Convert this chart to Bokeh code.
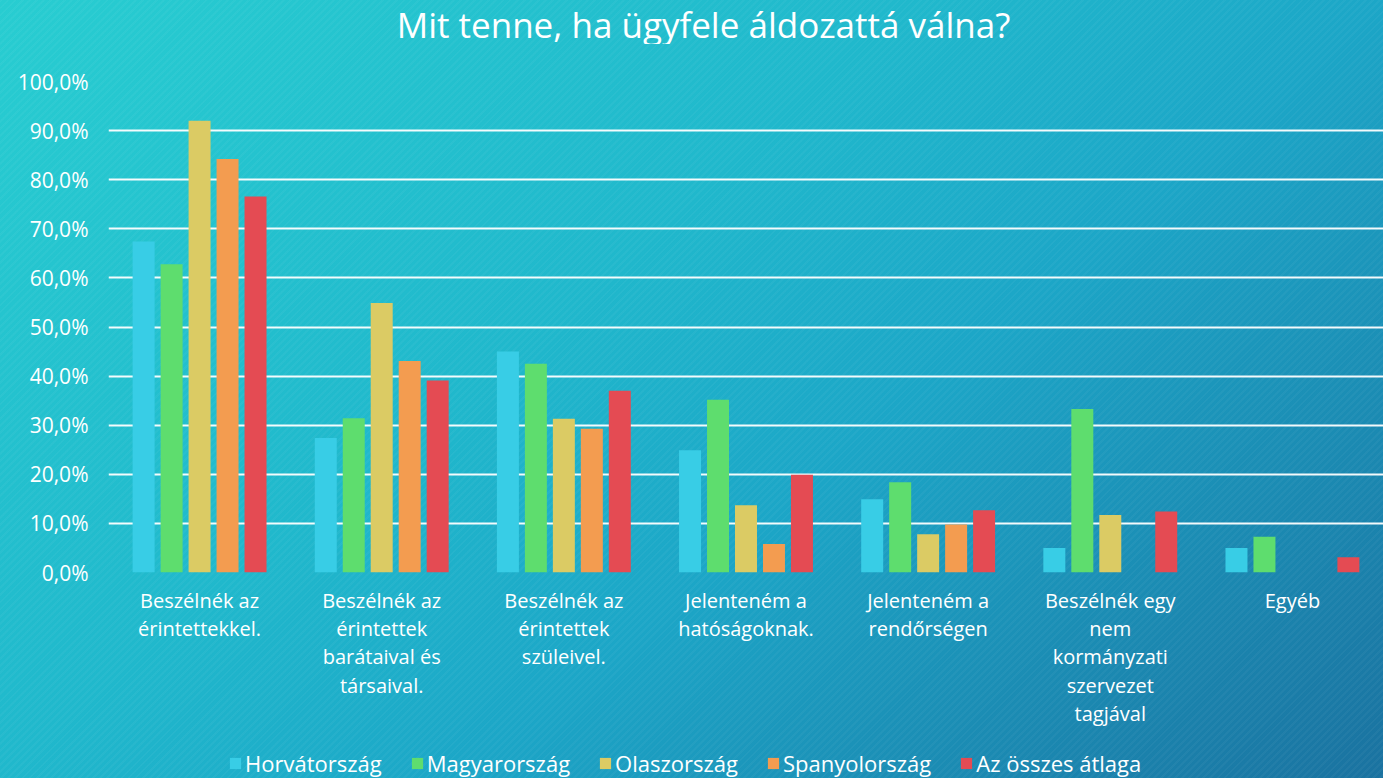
from bokeh.plotting import figure
from bokeh.models import ColumnDataSource, FixedTicker, Range1d, Legend, Label
from bokeh.layouts import column
from bokeh.transform import dodge
from bokeh.embed import file_html
from bokeh.resources import INLINE

# ---- data -------------------------------------------------------------
categories = [
    "Beszélnék az\nérintettekkel.",
    "Beszélnék az\nérintettek\nbarátaival és\ntársaival.",
    "Beszélnék az\nérintettek\nszüleivel.",
    "Jelenteném a\nhatóságoknak.",
    "Jelenteném a\nrendőrségen",
    "Beszélnék egy\nnem\nkormányzati\nszervezet\ntagjával",
    "Egyéb",
]
series_names = ["Horvátország", "Magyarország", "Olaszország", "Spanyolország", "Az összes átlaga"]
horvatorszag = [67.4, 27.4, 45.0, 24.9, 14.9, 5.0, 5.0]
magyarorszag = [62.8, 31.4, 42.5, 35.2, 18.4, 33.3, 7.3]
olaszorszag = [92.0, 54.9, 31.3, 13.7, 7.8, 11.7, 0.0]
spanyolorszag = [84.2, 43.1, 29.3, 5.8, 9.8, 0.0, 0.0]
atlag = [76.6, 39.1, 37.0, 19.9, 12.7, 12.4, 3.1]
y_ticks = [0, 10, 20, 30, 40, 50, 60, 70, 80, 90, 100]
y_tick_labels = ["0,0%", "10,0%", "20,0%", "30,0%", "40,0%", "50,0%",
                 "60,0%", "70,0%", "80,0%", "90,0%", "100,0%"]
title_text = "Mit tenne, ha ügyfele áldozattá válna?"

colors = ["#38CDE6", "#5EDD6E", "#DBCB64", "#F39C50", "#E44B53"]

x_pos = [i + 0.5 for i in range(len(categories))]
src = ColumnDataSource(dict(x=x_pos, s0=horvatorszag, s1=magyarorszag,
                            s2=olaszorszag, s3=spanyolorszag, s4=atlag))

FONT = "Open Sans"
W = 1383


def bare(height):
    f = figure(width=W, height=height, output_backend="svg", toolbar_location=None,
               title=None, x_range=Range1d(0, 1), y_range=Range1d(0, 1),
               x_axis_type=None, y_axis_type=None, min_border=0)
    f.background_fill_alpha = 0
    f.border_fill_alpha = 0
    f.outline_line_color = None
    f.grid.visible = False
    return f


# ---- title strip (frames of the column are aligned at x = 108) -----------
head = bare(44)
head.add_layout(Label(x=595, y=20, x_units="screen", y_units="screen", text=title_text,
                      text_font=FONT, text_font_size="35px", text_color="white",
                      text_align="center", text_baseline="alphabetic"))

# ---- main chart -----------------------------------------------------------
p = figure(width=W, height=704, frame_width=1275, frame_height=491,
           output_backend="svg", toolbar_location=None, title=None,
           x_range=Range1d(0, 7), y_range=Range1d(0, 100),
           min_border_left=108, min_border_right=0, min_border_top=37,
           min_border_bottom=176)
p.background_fill_alpha = 0
p.border_fill_alpha = 0
p.outline_line_color = None

pitch = 0.1536
bw = 0.1207
for j in range(5):
    p.vbar(x=dodge("x", (j - 2) * pitch, range=p.x_range), top=f"s{j}", width=bw,
           source=src, fill_color=colors[j], line_color=None)

p.xaxis.ticker = FixedTicker(ticks=x_pos)
p.xaxis.major_label_overrides = {x: c for x, c in zip(x_pos, categories)}
p.yaxis.ticker = FixedTicker(ticks=y_ticks)
p.yaxis.major_label_overrides = {t: l for t, l in zip(y_ticks, y_tick_labels)}
for ax in (p.xaxis[0], p.yaxis[0]):
    ax.axis_line_color = None
    ax.major_tick_line_color = None
    ax.minor_tick_line_color = None
    ax.major_tick_out = 0
    ax.major_tick_in = 0
    ax.major_label_text_color = "white"
    ax.major_label_text_font = FONT
p.xaxis.major_label_text_font_size = "20px"
p.xaxis.major_label_text_line_height = 1.05
p.xaxis.major_label_standoff = 14
p.yaxis.major_label_text_font_size = "21px"
p.yaxis.major_label_standoff = 20

p.xgrid.grid_line_color = None
p.ygrid.grid_line_color = "white"
p.ygrid.grid_line_width = 2
p.ygrid.grid_line_alpha = 0.95

# ---- legend strip ---------------------------------------------------------
foot = bare(30)
keys = []
for j in range(5):
    # key renderers: zero-height bars, invisible, used only for the legend swatches
    keys.append(foot.vbar(x=[0.5], top=[0.0], width=0.1, fill_color=colors[j],
                          line_color=None))
lg = Legend(items=[(n, [r]) for n, r in zip(series_names, keys)],
            orientation="horizontal", location=(120, 0))
lg.background_fill_alpha = 0
lg.border_line_color = None
lg.label_text_color = "white"
lg.label_text_font = FONT
lg.label_text_font_size = "22px"
lg.label_height = 24
lg.glyph_width = 14
lg.glyph_height = 14
lg.label_standoff = 3
lg.spacing = 28
lg.padding = 0
lg.margin = 0
foot.add_layout(lg)

layout = column(head, p, foot, spacing=0)

html = file_html(layout, INLINE, title="chart")
css = ("<style>html{min-height:100%;background:"
       "repeating-linear-gradient(135deg, rgba(255,255,255,0.035) 0px, rgba(255,255,255,0.035) 2px, rgba(0,0,0,0) 2px, rgba(0,0,0,0) 5px),"
       "linear-gradient(140deg, #28cdd1 0%, #20b8cc 40%, #1ca6c7 60%, #1a72a0 100%);"
       "background-attachment:fixed;} body{background:transparent;}</style>")
html = html.replace("</head>", css + "</head>", 1)
open("out.html", "w").write(html)
